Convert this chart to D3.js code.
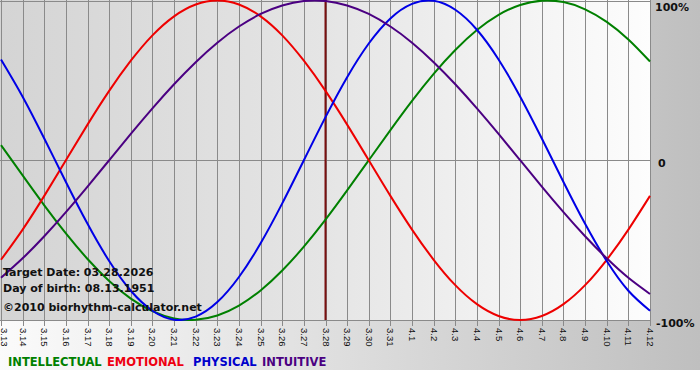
<!DOCTYPE html>
<html><head><meta charset="utf-8">
<script src="https://cdn.jsdelivr.net/npm/d3@7"></script>
<style>body{margin:0;padding:0;background:#fff;}svg{display:block;}</style>
</head><body>
<svg id="c" width="700" height="380"></svg>
<script>
const dates = ["3.13","3.14","3.15","3.16","3.17","3.18","3.19","3.20","3.21","3.22","3.23","3.24","3.25","3.26","3.27","3.28","3.29","3.30","3.31","4.1","4.2","4.3","4.4","4.5","4.6","4.7","4.8","4.9","4.10","4.11","4.12"];
const physical = [0.631,0.398,0.136,-0.136,-0.398,-0.631,-0.817,-0.942,-0.998,-0.979,-0.888,-0.731,-0.520,-0.270,0,0.270,0.520,0.731,0.888,0.979,0.998,0.942,0.817,0.631,0.398,0.136,-0.136,-0.398,-0.631,-0.817,-0.942];
const emotional = [-0.623,-0.434,-0.223,0,0.223,0.434,0.623,0.782,0.901,0.975,1,0.975,0.901,0.782,0.623,0.434,0.223,0,-0.223,-0.434,-0.623,-0.782,-0.901,-0.975,-1,-0.975,-0.901,-0.782,-0.623,-0.434,-0.223];
const intellectual = [0.095,-0.095,-0.282,-0.458,-0.618,-0.756,-0.866,-0.945,-0.990,-0.999,-0.972,-0.910,-0.815,-0.690,-0.541,-0.372,-0.189,0,0.189,0.372,0.541,0.690,0.815,0.910,0.972,0.999,0.990,0.945,0.866,0.756,0.618];
const intuitive = [-0.736,-0.614,-0.476,-0.325,-0.165,0,0.165,0.325,0.476,0.614,0.736,0.837,0.916,0.969,0.997,0.997,0.969,0.916,0.837,0.736,0.614,0.476,0.325,0.165,0,-0.165,-0.325,-0.476,-0.614,-0.736,-0.837];
const yTicks = [1, 0, -1];
const yTickLabels = ["100%", "0", "-100%"];
const targetIndex = 15;
const infoLines = ["Target Date: 03.28.2026", "Day of birth: 08.13.1951", "©2010 biorhythm-calculator.net"];
const legendNames = ["INTELLECTUAL", "EMOTIONAL", "PHYSICAL", "INTUITIVE"];

const series = [
  {name:"INTELLECTUAL", values: intellectual, color:"#008000"},
  {name:"EMOTIONAL", values: emotional, color:"#ee0000"},
  {name:"PHYSICAL", values: physical, color:"#0000e6"},
  {name:"INTUITIVE", values: intuitive, color:"#4b0082"}
];
const legendColors = {"INTELLECTUAL":"#008000","EMOTIONAL":"#ee0011","PHYSICAL":"#0000cc","INTUITIVE":"#4b0082"};
const legendX = [8, 107, 193, 262];

const svg = d3.select("#c");
const W = 700, H = 380;
const plotL = 0, plotR = 650, plotT = 0, plotB = 320;

const defs = svg.append("defs");
const g1 = defs.append("linearGradient").attr("id","outer").attr("x1","0").attr("x2","1").attr("y1","0").attr("y2","0");
g1.append("stop").attr("offset","0").attr("stop-color","#fbfbfb");
g1.append("stop").attr("offset","1").attr("stop-color","#bfbfbf");
const g2 = defs.append("linearGradient").attr("id","plotbg").attr("x1","0").attr("x2","1").attr("y1","0").attr("y2","0");
g2.append("stop").attr("offset","0").attr("stop-color","#d4d4d4");
g2.append("stop").attr("offset","0.5").attr("stop-color","#e5e5e5");
g2.append("stop").attr("offset","1").attr("stop-color","#fdfdfd");
defs.append("clipPath").attr("id","clip").append("rect").attr("x",plotL).attr("y",plotT-1).attr("width",plotR-plotL+1).attr("height",plotB-plotT+2);

svg.append("rect").attr("x",0).attr("y",0).attr("width",W).attr("height",370).attr("fill","url(#outer)");
svg.append("rect").attr("x",plotL).attr("y",plotT).attr("width",plotR-plotL).attr("height",plotB-plotT).attr("fill","url(#plotbg)");

const x = d3.scaleLinear().domain([0, dates.length-1]).range([1, 650]);
const y = d3.scaleLinear().domain([-1, 1]).range([plotB, plotT+0.5]);

// vertical grid + ticks
const grid = svg.append("g");
grid.selectAll("line.v").data(dates).join("line")
  .attr("x1",(d,i)=>Math.round(x(i))+0.5).attr("x2",(d,i)=>Math.round(x(i))+0.5)
  .attr("y1",plotT).attr("y2",plotB+6)
  .attr("stroke","#8a8a8a").attr("stroke-width",1);
// horizontal
grid.selectAll("line.h").data(yTicks).join("line")
  .attr("x1",plotL).attr("x2",plotR)
  .attr("y1",d=>Math.round(y(d))+0.5).attr("y2",d=>Math.round(y(d))+0.5)
  .attr("stroke","#8a8a8a").attr("stroke-width",1);

// x labels
svg.append("g").selectAll("text").data(dates).join("text")
  .attr("transform",(d,i)=>`translate(${Math.max(Math.round(x(i))+0.5, 4)},${plotB+8}) rotate(90)`)
  .attr("dominant-baseline","central")
  .attr("font-family","'Liberation Sans', Arial, sans-serif")
  .attr("font-size","9.5px")
  .attr("fill","#111")
  .text(d=>d);

// y labels
svg.append("g").selectAll("text").data(yTicks).join("text")
  .attr("x",(d,i)=> i===1 ? 658 : (i===0 ? 655 : 656))
  .attr("y",d=>y(d)+ (d===1?7:3))
  .attr("dominant-baseline","central")
  .attr("font-family","'DejaVu Sans', Verdana, sans-serif")
  .attr("font-weight","bold")
  .attr("font-size","11px")
  .attr("fill","#111")
  .text((d,i)=>yTickLabels[i]);

// target line
svg.append("line")
  .attr("x1",x(targetIndex)).attr("x2",x(targetIndex))
  .attr("y1",plotT).attr("y2",plotB)
  .attr("stroke","#7a1010").attr("stroke-width",2);

// curves
const line = d3.line().x((d,i)=>x(i)).y(d=>y(d)).curve(d3.curveNatural);
svg.append("g").attr("clip-path","url(#clip)").selectAll("path").data(series).join("path")
  .attr("d",d=>line(d.values))
  .attr("fill","none").attr("stroke",d=>d.color).attr("stroke-width",2);

// info text
svg.append("g").selectAll("text").data(infoLines).join("text")
  .attr("x",3).attr("y",(d,i)=>[276,292,311][i])
  .attr("font-family","'DejaVu Sans', Verdana, sans-serif")
  .attr("font-weight","bold")
  .attr("font-size","11px")
  .attr("fill","#111")
  .text(d=>d);

// legend
svg.append("g").selectAll("text").data(legendNames).join("text")
  .attr("x",(d,i)=>legendX[i]).attr("y",366)
  .attr("font-family","'DejaVu Sans', Verdana, sans-serif")
  .attr("font-weight","bold").attr("font-size","11.5px")
  .attr("fill",d=>legendColors[d])
  .text(d=>d);
</script>
</body></html>
